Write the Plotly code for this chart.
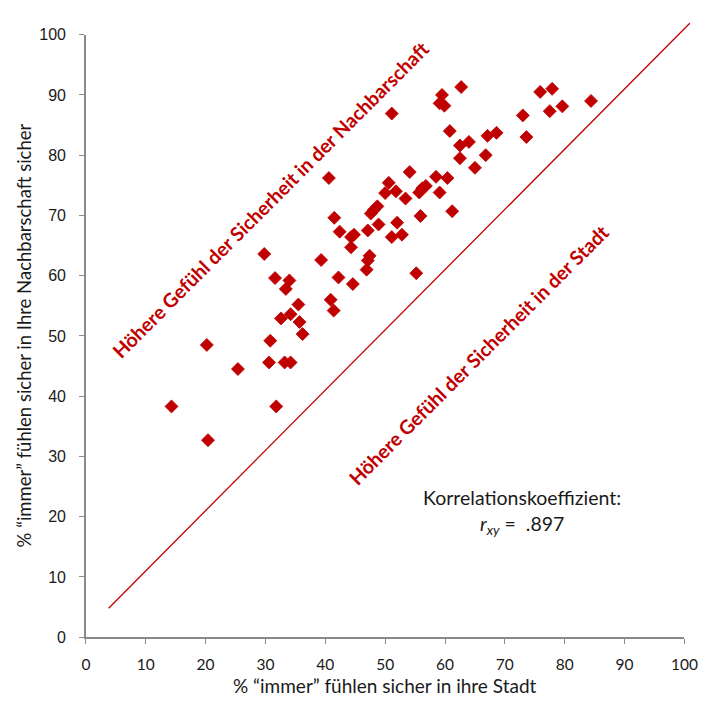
import plotly.graph_objects as go

# Share of residents who "always" feel safe: in their city (x) vs. in their neighbourhood (y)
stadt = [
    14.3, 20.2, 20.4, 25.4, 29.8, 30.8, 30.6, 31.8, 31.6, 32.6,
    33.4, 34.0, 34.2, 33.2, 34.2, 35.5, 35.7, 36.2, 39.3, 40.6,
    40.9, 41.4, 41.5, 42.2, 42.4, 44.3, 44.3, 44.8, 44.6, 47.1,
    46.9, 47.1, 47.4, 47.6, 48.1, 48.7, 48.9, 50.0, 50.6, 51.8,
    51.1, 52.0, 52.8, 53.4, 54.1, 55.2, 55.7, 56.2, 56.8, 55.9,
    58.5, 59.1, 60.4, 61.2, 60.8, 62.5, 64.0, 62.5, 65.0, 66.8,
    67.1, 68.6, 62.7, 59.5, 59.1, 59.9, 51.1, 73.0, 73.6, 75.9,
    77.9, 77.5, 79.6, 84.4,
]
nachbarschaft = [
    38.3, 48.5, 32.7, 44.5, 63.6, 49.2, 45.6, 38.3, 59.6, 52.9,
    57.8, 59.2, 53.6, 45.6, 45.6, 55.2, 52.3, 50.3, 62.6, 76.2,
    56.0, 54.2, 69.6, 59.7, 67.3, 64.7, 66.4, 66.8, 58.6, 67.5,
    61.0, 62.5, 63.3, 70.3, 70.9, 71.5, 68.5, 73.7, 75.4, 74.0,
    66.4, 68.8, 66.8, 72.8, 77.2, 60.4, 73.8, 74.5, 74.9, 69.9,
    76.4, 73.8, 76.2, 70.7, 84.0, 81.6, 82.2, 79.5, 77.9, 80.0,
    83.2, 83.7, 91.3, 90.0, 88.6, 88.2, 86.9, 86.6, 83.0, 90.5,
    91.0, 87.3, 88.1, 89.0,
]

# Reference diagonal (equal feeling of safety), drawn past the axis frame
diag_x = [3.8, 100.9]
diag_y = [4.8, 101.9]

x_ticks = list(range(0, 101, 10))
y_ticks = list(range(0, 101, 10))

RED = "#C00000"
AXIS_GREY = "#8a8a8a"
TEXT = "#1a1a1a"

W, H = 713, 706
# plot frame in pixels (left, right, top, bottom)
FL, FR, FT, FB = 83.0, 697.0, 27.3, 644.7
xdom = [FL / W, FR / W]
ydom = [(H - FB) / H, (H - FT) / H]

# second pair of axes spanning the whole page, same scale as the main axes
sx = (FR - FL) / 100.0
sy = (FB - FT) / 100.0
x2_range = [-FL / sx, 100 + (W - FR) / sx]
y2_range = [-(H - FB) / sy, 100 + FT / sy]

fig = go.Figure()

fig.add_trace(go.Scatter(
    x=diag_x, y=diag_y, mode="lines",
    line=dict(color=RED, width=1.3),
    xaxis="x2", yaxis="y2", hoverinfo="skip", showlegend=False,
))

fig.add_trace(go.Scatter(
    x=stadt, y=nachbarschaft, mode="markers",
    marker=dict(symbol="diamond", size=10, color=RED,
                line=dict(color=RED, width=0.8)),
    cliponaxis=False, showlegend=False,
))

tick_font_x = dict(family="Lato", size=15.5, color=TEXT)
tick_font_y = dict(family="Liberation Sans", size=16, color=TEXT)

fig.update_layout(
    width=W, height=H,
    margin=dict(l=0, r=0, t=0, b=0),
    paper_bgcolor="white", plot_bgcolor="rgba(0,0,0,0)",
    showlegend=False,
    xaxis=dict(
        domain=xdom, range=[0, 100], tickvals=x_ticks,
        showgrid=False, zeroline=False,
        showline=True, linecolor=AXIS_GREY, linewidth=1.5,
        ticks="outside", ticklen=5, tickcolor=AXIS_GREY, tickwidth=1.2,
        ticklabelstandoff=7, tickfont=tick_font_x,
    ),
    yaxis=dict(
        domain=ydom, range=[0, 100], tickvals=y_ticks,
        showgrid=False, zeroline=False,
        showline=True, linecolor=AXIS_GREY, linewidth=1.5,
        ticks="outside", ticklen=5, tickcolor=AXIS_GREY, tickwidth=1.2,
        ticklabelstandoff=10, tickfont=tick_font_y,
    ),
    xaxis2=dict(domain=[0, 1], range=x2_range, visible=False, anchor="y2"),
    yaxis2=dict(domain=[0, 1], range=y2_range, visible=False, anchor="x2"),
)

annotations = [
    # axis titles
    dict(text="% “immer” fühlen sicher in ihre Stadt",
         xref="paper", yref="paper", x=(FL + FR) / 2 / W, y=(H - 694) / H,
         showarrow=False, font=dict(family="Lato", size=19, color=TEXT),
         xanchor="center", yanchor="middle"),
    dict(text="% “immer” fühlen sicher in Ihre Nachbarschaft sicher",
         xref="paper", yref="paper", x=19 / W, y=(H - (FT + FB) / 2) / H,
         textangle=-90, showarrow=False,
         font=dict(family="Lato", size=18.5, color=TEXT),
         xanchor="center", yanchor="middle"),
    # region labels along the diagonal
    dict(text="<b>Höhere Gefühl der Sicherheit in der Nachbarschaft</b>",
         xref="x", yref="y", x=30.9, y=72.6, textangle=-45, showarrow=False,
         font=dict(family="Lato", size=19.5, color=RED),
         xanchor="center", yanchor="middle"),
    dict(text="<b>Höhere Gefühl der Sicherheit in der Stadt</b>",
         xref="x", yref="y", x=65.7, y=46.9, textangle=-45, showarrow=False,
         font=dict(family="Lato", size=19.5, color=RED),
         xanchor="center", yanchor="middle"),
    # correlation coefficient
    dict(text="Korrelationskoeffizient:",
         xref="x", yref="y", x=72.8, y=23.1, showarrow=False,
         font=dict(family="Lato", size=19.5, color=TEXT),
         xanchor="center", yanchor="middle"),
    dict(text="<i>r</i><sub><i>xy</i></sub> =\u00a0\u00a0.897",
         xref="x", yref="y", x=72.8, y=18.6, showarrow=False,
         font=dict(family="Lato", size=19.5, color=TEXT),
         xanchor="center", yanchor="middle"),
]
fig.update_layout(annotations=annotations)

fig.write_html("out.html")
